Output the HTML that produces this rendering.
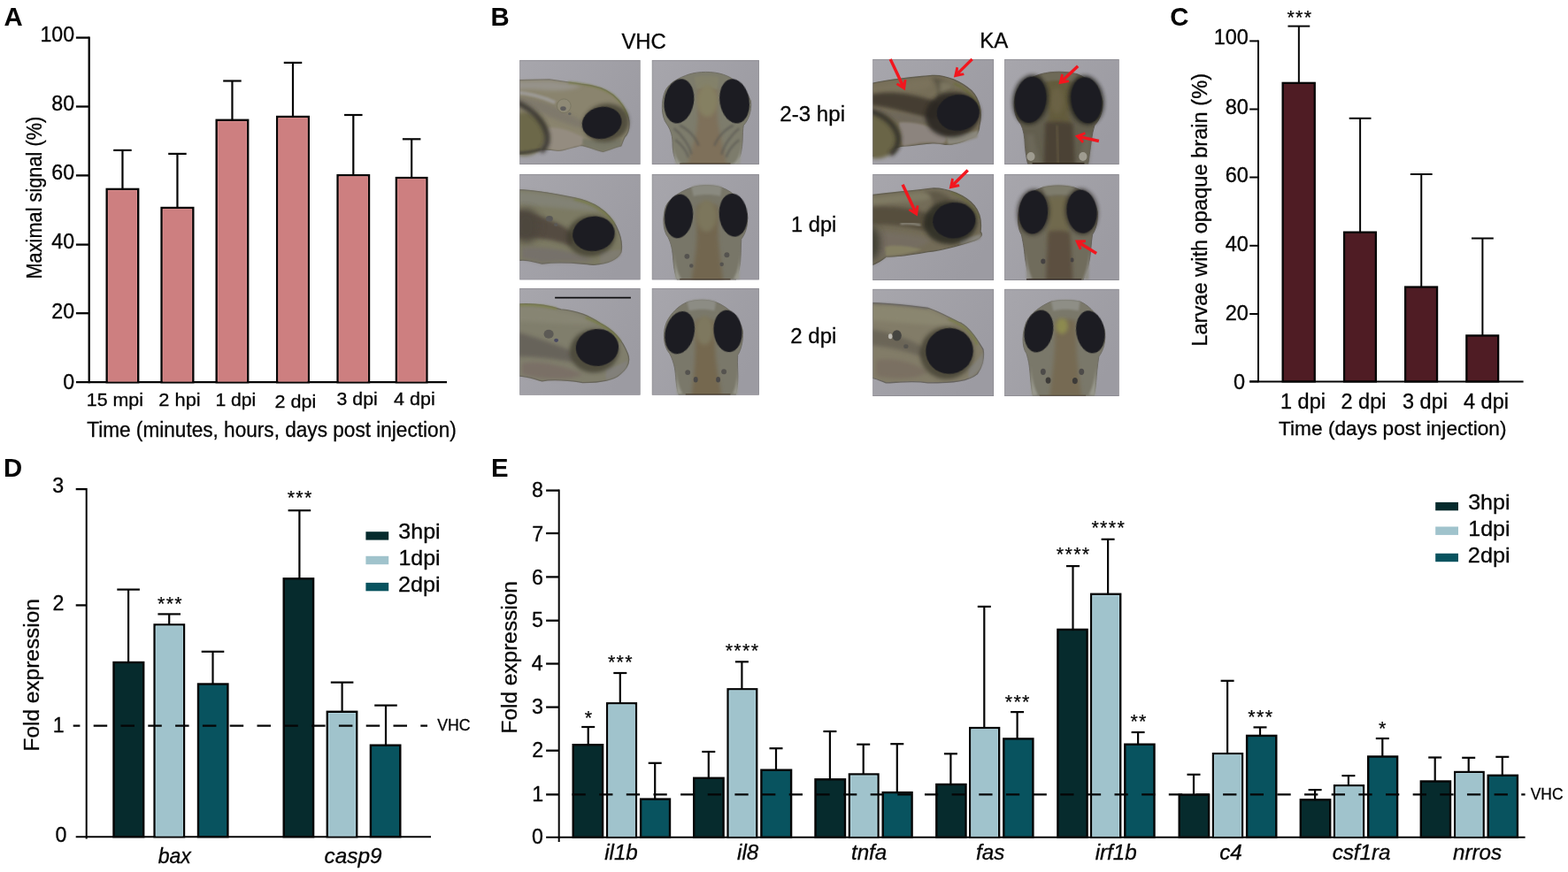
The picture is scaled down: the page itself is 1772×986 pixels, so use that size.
<!DOCTYPE html>
<html lang="en">
<head>
<meta charset="utf-8">
<title>Figure</title>
<style>
html,body{margin:0;padding:0;background:#fff;}
body{width:1772px;height:986px;overflow:hidden;}
svg{display:block;font-family:"Liberation Sans",Arial,Helvetica,sans-serif;fill:#050505;}
</style>
</head>
<body>
<svg width="1772" height="986" viewBox="0 0 1772 986">
<rect width="1772" height="986" fill="#ffffff"/>
<text x="4.57" y="29.30" font-size="29.30" font-weight="bold">A</text>
<line x1="100.70" y1="41.60" x2="100.70" y2="433.20" stroke="#050505" stroke-width="2.3" />
<line x1="85.90" y1="432.20" x2="505.00" y2="432.20" stroke="#050505" stroke-width="2.3" />
<line x1="85.90" y1="42.60" x2="100.70" y2="42.60" stroke="#050505" stroke-width="2.3" />
<text x="84.09" y="47.40" font-size="23.20" text-anchor="end" stroke="#050505" stroke-width="0.3">100</text>
<line x1="85.90" y1="120.50" x2="100.70" y2="120.50" stroke="#050505" stroke-width="2.3" />
<text x="84.12" y="124.60" font-size="23.20" text-anchor="end" stroke="#050505" stroke-width="0.3">80</text>
<line x1="85.90" y1="198.40" x2="100.70" y2="198.40" stroke="#050505" stroke-width="2.3" />
<text x="84.12" y="202.60" font-size="23.20" text-anchor="end" stroke="#050505" stroke-width="0.3">60</text>
<line x1="85.90" y1="276.60" x2="100.70" y2="276.60" stroke="#050505" stroke-width="2.3" />
<text x="84.12" y="280.80" font-size="23.20" text-anchor="end" stroke="#050505" stroke-width="0.3">40</text>
<line x1="85.90" y1="354.20" x2="100.70" y2="354.20" stroke="#050505" stroke-width="2.3" />
<text x="84.12" y="359.80" font-size="23.20" text-anchor="end" stroke="#050505" stroke-width="0.3">20</text>
<text x="84.10" y="440.40" font-size="23.20" text-anchor="end" stroke="#050505" stroke-width="0.3">0</text>
<line x1="138.45" y1="169.90" x2="138.45" y2="213.70" stroke="#050505" stroke-width="2.2" />
<line x1="128.20" y1="169.90" x2="148.70" y2="169.90" stroke="#050505" stroke-width="2.2" />
<rect x="120.70" y="213.90" width="35.50" height="218.30" fill="#cd7f80" stroke="#050505" stroke-width="2.4"/>
<rect x="122.30" y="215.50" width="32.30" height="215.70" fill="none" stroke="#dc8f90" stroke-width="0.8"/>
<line x1="200.45" y1="173.90" x2="200.45" y2="234.80" stroke="#050505" stroke-width="2.2" />
<line x1="190.20" y1="173.90" x2="210.70" y2="173.90" stroke="#050505" stroke-width="2.2" />
<rect x="182.60" y="235.00" width="35.70" height="197.20" fill="#cd7f80" stroke="#050505" stroke-width="2.4"/>
<rect x="184.20" y="236.60" width="32.50" height="194.60" fill="none" stroke="#dc8f90" stroke-width="0.8"/>
<line x1="262.45" y1="91.50" x2="262.45" y2="135.60" stroke="#050505" stroke-width="2.2" />
<line x1="252.20" y1="91.50" x2="272.70" y2="91.50" stroke="#050505" stroke-width="2.2" />
<rect x="244.70" y="135.80" width="35.50" height="296.40" fill="#cd7f80" stroke="#050505" stroke-width="2.4"/>
<rect x="246.30" y="137.40" width="32.30" height="293.80" fill="none" stroke="#dc8f90" stroke-width="0.8"/>
<line x1="331.00" y1="70.90" x2="331.00" y2="131.80" stroke="#050505" stroke-width="2.2" />
<line x1="320.75" y1="70.90" x2="341.25" y2="70.90" stroke="#050505" stroke-width="2.2" />
<rect x="313.20" y="132.00" width="35.60" height="300.20" fill="#cd7f80" stroke="#050505" stroke-width="2.4"/>
<rect x="314.80" y="133.60" width="32.40" height="297.60" fill="none" stroke="#dc8f90" stroke-width="0.8"/>
<line x1="399.30" y1="130.00" x2="399.30" y2="198.00" stroke="#050505" stroke-width="2.2" />
<line x1="389.05" y1="130.00" x2="409.55" y2="130.00" stroke="#050505" stroke-width="2.2" />
<rect x="381.60" y="198.20" width="35.40" height="234.00" fill="#cd7f80" stroke="#050505" stroke-width="2.4"/>
<rect x="383.20" y="199.80" width="32.20" height="231.40" fill="none" stroke="#dc8f90" stroke-width="0.8"/>
<line x1="465.15" y1="157.30" x2="465.15" y2="200.90" stroke="#050505" stroke-width="2.2" />
<line x1="454.90" y1="157.30" x2="475.40" y2="157.30" stroke="#050505" stroke-width="2.2" />
<rect x="447.90" y="201.10" width="34.50" height="231.10" fill="#cd7f80" stroke="#050505" stroke-width="2.4"/>
<rect x="449.50" y="202.70" width="31.30" height="228.50" fill="none" stroke="#dc8f90" stroke-width="0.8"/>
<text x="97.80" y="458.80" font-size="20.80" textLength="64.23" lengthAdjust="spacingAndGlyphs" stroke="#050505" stroke-width="0.3">15 mpi</text>
<text x="179.31" y="458.80" font-size="20.80" textLength="47.33" lengthAdjust="spacingAndGlyphs" stroke="#050505" stroke-width="0.3">2 hpi</text>
<text x="243.41" y="458.80" font-size="20.80" textLength="45.88" lengthAdjust="spacingAndGlyphs" stroke="#050505" stroke-width="0.3">1 dpi</text>
<text x="310.52" y="460.60" font-size="20.80" textLength="46.70" lengthAdjust="spacingAndGlyphs" stroke="#050505" stroke-width="0.3">2 dpi</text>
<text x="380.60" y="457.80" font-size="20.80" textLength="46.10" lengthAdjust="spacingAndGlyphs" stroke="#050505" stroke-width="0.3">3 dpi</text>
<text x="445.12" y="458.30" font-size="20.80" textLength="46.60" lengthAdjust="spacingAndGlyphs" stroke="#050505" stroke-width="0.3">4 dpi</text>
<text x="98.19" y="494.00" font-size="24.20" textLength="417.54" lengthAdjust="spacingAndGlyphs" stroke="#050505" stroke-width="0.3">Time (minutes, hours, days post injection)</text>
<text x="46.90" y="315.50" font-size="24.80" textLength="183.79" lengthAdjust="spacingAndGlyphs" transform="rotate(-90 46.90 315.50)" stroke="#050505" stroke-width="0.3">Maximal signal (%)</text>
<text x="554.62" y="29.30" font-size="29.30" font-weight="bold">B</text>
<text x="702.48" y="55.00" font-size="24.00" textLength="50.35" lengthAdjust="spacingAndGlyphs" stroke="#050505" stroke-width="0.3">VHC</text>
<text x="1107.32" y="54.00" font-size="24.00" textLength="32.02" lengthAdjust="spacingAndGlyphs" stroke="#050505" stroke-width="0.3">KA</text>
<text x="881.29" y="136.80" font-size="23.50" textLength="73.74" lengthAdjust="spacingAndGlyphs" stroke="#050505" stroke-width="0.3">2-3 hpi</text>
<text x="894.13" y="261.60" font-size="23.50" textLength="51.23" lengthAdjust="spacingAndGlyphs" stroke="#050505" stroke-width="0.3">1 dpi</text>
<text x="893.30" y="388.40" font-size="23.50" textLength="52.09" lengthAdjust="spacingAndGlyphs" stroke="#050505" stroke-width="0.3">2 dpi</text>
<defs><filter id="b2" x="-22%" y="-22%" width="144%" height="144%"><feGaussianBlur stdDeviation="2"/></filter><filter id="b4" x="-24%" y="-24%" width="148%" height="148%"><feGaussianBlur stdDeviation="4"/></filter><filter id="b8" x="-28%" y="-28%" width="156%" height="156%"><feGaussianBlur stdDeviation="8"/></filter><filter id="b14" x="-34%" y="-34%" width="168%" height="168%"><feGaussianBlur stdDeviation="14"/></filter><filter id="b25" x="-45%" y="-45%" width="190%" height="190%"><feGaussianBlur stdDeviation="25"/></filter><clipPath id="c1"><rect x="44" y="48" width="834" height="722"/></clipPath><linearGradient id="g2" x1="0" y1="0" x2="1" y2="0.6"><stop offset="0" stop-color="#a7a6ac"/><stop offset="1" stop-color="#9c9ba2"/></linearGradient><clipPath id="c3"><rect x="957" y="48" width="741" height="722"/></clipPath><linearGradient id="g4" x1="0" y1="0" x2="1" y2="0.6"><stop offset="0" stop-color="#a7a6ac"/><stop offset="1" stop-color="#9c9ba2"/></linearGradient><clipPath id="c5"><rect x="44" y="42" width="834" height="731"/></clipPath><linearGradient id="g6" x1="0" y1="0" x2="1" y2="0.6"><stop offset="0" stop-color="#a7a6ac"/><stop offset="1" stop-color="#9c9ba2"/></linearGradient><clipPath id="c7"><rect x="957" y="42" width="741" height="731"/></clipPath><linearGradient id="g8" x1="0" y1="0" x2="1" y2="0.6"><stop offset="0" stop-color="#a7a6ac"/><stop offset="1" stop-color="#9c9ba2"/></linearGradient><clipPath id="c9"><rect x="44" y="48" width="834" height="739"/></clipPath><linearGradient id="g10" x1="0" y1="0" x2="1" y2="0.6"><stop offset="0" stop-color="#a7a6ac"/><stop offset="1" stop-color="#9c9ba2"/></linearGradient><clipPath id="c11"><rect x="957" y="48" width="741" height="739"/></clipPath><linearGradient id="g12" x1="0" y1="0" x2="1" y2="0.6"><stop offset="0" stop-color="#a7a6ac"/><stop offset="1" stop-color="#9c9ba2"/></linearGradient><clipPath id="c13"><rect x="38" y="42" width="837" height="728"/></clipPath><linearGradient id="g14" x1="0" y1="0" x2="1" y2="0.6"><stop offset="0" stop-color="#a7a6ac"/><stop offset="1" stop-color="#9c9ba2"/></linearGradient><clipPath id="c15"><rect x="948" y="42" width="792" height="728"/></clipPath><linearGradient id="g16" x1="0" y1="0" x2="1" y2="0.6"><stop offset="0" stop-color="#a7a6ac"/><stop offset="1" stop-color="#9c9ba2"/></linearGradient><clipPath id="c17"><rect x="38" y="42" width="837" height="734"/></clipPath><linearGradient id="g18" x1="0" y1="0" x2="1" y2="0.6"><stop offset="0" stop-color="#a7a6ac"/><stop offset="1" stop-color="#9c9ba2"/></linearGradient><clipPath id="c19"><rect x="948" y="42" width="792" height="734"/></clipPath><linearGradient id="g20" x1="0" y1="0" x2="1" y2="0.6"><stop offset="0" stop-color="#a7a6ac"/><stop offset="1" stop-color="#9c9ba2"/></linearGradient><clipPath id="c21"><rect x="38" y="53" width="837" height="742"/></clipPath><linearGradient id="g22" x1="0" y1="0" x2="1" y2="0.6"><stop offset="0" stop-color="#a7a6ac"/><stop offset="1" stop-color="#9c9ba2"/></linearGradient><clipPath id="c23"><rect x="948" y="53" width="792" height="742"/></clipPath><linearGradient id="g24" x1="0" y1="0" x2="1" y2="0.6"><stop offset="0" stop-color="#a7a6ac"/><stop offset="1" stop-color="#9c9ba2"/></linearGradient></defs>
<g transform="translate(580,60) scale(0.16366)"><g clip-path="url(#c1)"><rect x="44" y="48" width="834" height="722" fill="url(#g2)"/><path d="M20,188 L250,183 C330,195 400,205 470,215 C560,222 640,250 690,290 C740,330 790,400 800,470 C805,520 790,560 770,580 C760,600 750,630 745,640 C700,650 660,670 620,680 C570,670 520,645 470,637 C420,645 370,670 310,675 C250,665 200,665 180,668 C130,680 80,690 20,700 Z" fill="#8a846e" stroke="#6f6c60" stroke-width="8" filter="url(#b4)"/><path d="M20,196 L250,191 C330,203 400,213 470,223 C420,260 300,262 200,255 C120,250 60,250 20,255 Z" fill="#96938a" filter="url(#b14)"/><path d="M20,300 C120,310 230,340 330,390 C400,430 450,455 480,475 L470,520 C400,500 300,465 220,425 C140,385 80,365 20,360 Z" fill="#7e786c" opacity="0.9" filter="url(#b14)"/><path d="M20,272 C100,277 200,302 290,342" fill="none" stroke="#9f9c9a" stroke-width="24" opacity="0.9" filter="url(#b8)"/><path d="M230,520 C300,500 400,540 480,580 C500,610 480,640 440,645 C380,660 330,675 300,672 C250,660 210,650 200,640 Z" fill="#948c80" filter="url(#b8)"/><path d="M480,590 C560,610 660,620 750,590 L745,640 C700,650 660,670 620,680 C570,670 520,645 480,637 Z" fill="#787868" filter="url(#b8)"/><ellipse cx="75" cy="560" rx="160" ry="150" fill="#6c6748" filter="url(#b14)"/><path d="M20,340 C120,380 210,460 235,570 C240,620 220,660 190,680" fill="none" stroke="#3a3733" stroke-width="36" opacity="0.95" filter="url(#b14)"/><path d="M20,690 C80,690 140,680 190,665" fill="none" stroke="#45423a" stroke-width="20" opacity="0.85" filter="url(#b8)"/><path d="M380,203 C500,212 620,238 690,290 C740,330 775,390 788,440" fill="none" stroke="#787d46" stroke-width="12" opacity="0.9" filter="url(#b8)"/><path d="M302,365 a48,48 0 1,0 96,0 a48,48 0 1,0 -96,0" fill="#8f8a76" stroke="#77735f" stroke-width="5" filter="url(#b4)"/><ellipse cx="345" cy="383" rx="20" ry="15" fill="#5e5d5c" filter="url(#b4)"/><ellipse cx="390" cy="420" rx="11" ry="9" fill="#65645e" filter="url(#b4)"/><ellipse cx="640" cy="482" rx="160" ry="132" fill="#3a382c" transform="rotate(-12 640 482)" opacity="0.7" filter="url(#b14)"/><ellipse cx="612" cy="482" rx="138" ry="110" fill="#1f1f23" transform="rotate(-12 612 482)" filter="url(#b4)"/><rect x="46" y="50" width="830" height="718" fill="none" stroke="#807f86" stroke-width="5" opacity="0.75"/></g></g>
<g transform="translate(580,60) scale(0.16366)"><g clip-path="url(#c3)"><rect x="957" y="48" width="741" height="722" fill="url(#g4)"/><path d="M1210,148 C1280,125 1380,125 1450,148 C1520,170 1600,230 1640,330 C1650,400 1620,470 1590,500 C1580,560 1590,620 1570,700 C1560,740 1530,760 1500,790 L1150,790 C1120,750 1100,700 1100,620 C1100,560 1080,520 1060,490 C1020,440 1020,330 1050,260 C1080,200 1150,170 1210,148 Z" fill="#7d7c6c" stroke="#6e6c64" stroke-width="6" filter="url(#b4)"/><path d="M1270,240 C1310,230 1370,230 1410,245 C1410,320 1400,420 1420,520 C1440,620 1460,700 1480,790 L1200,790 C1220,700 1260,600 1270,500 C1280,420 1270,320 1270,240 Z" fill="#7e705a" filter="url(#b14)"/><path d="M1250,165 C1300,155 1370,155 1420,167 L1410,250 C1370,240 1310,240 1265,250 Z" fill="#83816b" filter="url(#b8)"/><ellipse cx="1340" cy="330" rx="70" ry="110" fill="#858062" filter="url(#b14)"/><path d="M1110,520 C1160,560 1220,640 1230,700 M1560,520 C1510,560 1450,640 1440,700 M1120,600 C1160,630 1200,680 1210,720 M1560,600 C1520,630 1480,680 1470,720 M1150,500 C1200,520 1260,580 1280,640 M1520,500 C1470,520 1410,580 1390,640" fill="none" stroke="#5a5852" stroke-width="14" opacity="0.7" filter="url(#b8)"/><path d="M1100,600 C1110,700 1130,750 1180,775 L1120,775 Z M1580,600 C1570,700 1550,750 1500,775 L1565,775 Z" fill="#97978c" filter="url(#b8)"/><path d="M1150,772 L1500,772 L1500,760 L1150,760 Z" fill="#3e3222" filter="url(#b4)"/><ellipse cx="1145" cy="332" rx="102" ry="155" fill="#1f1f23" transform="rotate(10 1145 332)" filter="url(#b4)"/><ellipse cx="1528" cy="332" rx="102" ry="155" fill="#1f1f23" transform="rotate(-10 1528 332)" filter="url(#b4)"/><rect x="959" y="50" width="737" height="718" fill="none" stroke="#807f86" stroke-width="5" opacity="0.75"/></g></g>
<g transform="translate(580,190) scale(0.16366)"><g clip-path="url(#c5)"><rect x="44" y="42" width="834" height="731" fill="url(#g6)"/><path d="M20,150 C150,150 300,180 420,205 C550,230 650,290 710,400 C750,480 755,530 745,580 C720,630 650,660 560,668 C450,660 350,640 200,660 C120,640 80,630 20,640 Z" fill="#7c7a64" stroke="#67655a" stroke-width="8" filter="url(#b4)"/><path d="M20,160 C150,160 300,190 420,215 C500,235 560,265 600,295 C500,300 300,270 20,250 Z" fill="#828274" filter="url(#b14)"/><path d="M20,290 C100,300 220,340 320,390 C370,415 400,440 420,470 L400,540 C300,500 200,480 20,480 Z" fill="#524a41" opacity="0.95" filter="url(#b14)"/><ellipse cx="90" cy="400" rx="90" ry="120" fill="#4e473e" opacity="0.9" filter="url(#b25)"/><path d="M420,215 C520,232 640,290 700,390" fill="none" stroke="#787d46" stroke-width="12" opacity="0.9" filter="url(#b8)"/><path d="M60,550 C300,540 450,590 560,640 C450,655 350,635 200,655 C150,640 100,630 60,625 Z" fill="#76716a" filter="url(#b14)"/><path d="M600,575 C660,575 720,565 745,565 L740,600 C700,640 650,655 600,660 Z" fill="#7f7c70" filter="url(#b8)"/><ellipse cx="250" cy="350" rx="24" ry="20" fill="#5a5956" filter="url(#b4)"/><ellipse cx="295" cy="392" rx="13" ry="11" fill="#5a5956" filter="url(#b4)"/><ellipse cx="537" cy="469" rx="168" ry="142" fill="#3a382c" transform="rotate(-8 537 469)" opacity="0.7" filter="url(#b14)"/><ellipse cx="555" cy="455" rx="146" ry="120" fill="#1f1f23" transform="rotate(-8 555 455)" filter="url(#b4)"/><rect x="46" y="44" width="830" height="727" fill="none" stroke="#807f86" stroke-width="5" opacity="0.75"/></g></g>
<g transform="translate(580,190) scale(0.16366)"><g clip-path="url(#c7)"><rect x="957" y="42" width="741" height="731" fill="url(#g8)"/><path d="M1230,135 C1290,115 1380,115 1440,135 C1520,165 1590,230 1615,320 C1625,400 1600,460 1575,490 C1570,560 1575,640 1560,700 C1550,740 1540,760 1530,790 L1140,790 C1120,750 1110,700 1105,640 C1100,560 1090,520 1070,480 C1030,430 1030,330 1055,260 C1090,200 1160,160 1230,135 Z" fill="#787668" stroke="#6e6c64" stroke-width="6" filter="url(#b4)"/><path d="M1270,260 C1320,250 1370,250 1410,260 C1420,340 1410,440 1420,540 C1430,640 1440,700 1450,790 L1230,790 C1240,700 1260,620 1265,520 C1270,420 1265,340 1270,260 Z" fill="#72664f" filter="url(#b14)"/><path d="M1230,130 C1290,112 1380,112 1440,130 L1430,195 C1380,180 1300,180 1245,195 Z" fill="#8a8a80" filter="url(#b8)"/><ellipse cx="1335" cy="330" rx="70" ry="110" fill="#7c765c" filter="url(#b14)"/><path d="M1110,560 C1115,650 1130,720 1160,765 L1120,775 Z M1570,560 C1565,650 1550,720 1520,765 L1560,775 Z" fill="#97978c" filter="url(#b8)"/><ellipse cx="1200" cy="610" rx="18" ry="18" fill="#55534f" filter="url(#b4)"/><ellipse cx="1230" cy="675" rx="14" ry="14" fill="#55534f" filter="url(#b4)"/><ellipse cx="1475" cy="600" rx="18" ry="18" fill="#55534f" filter="url(#b4)"/><ellipse cx="1440" cy="665" rx="14" ry="14" fill="#55534f" filter="url(#b4)"/><path d="M1150,775 L1500,775 L1500,764 L1150,764 Z" fill="#443826" filter="url(#b4)"/><ellipse cx="1143" cy="333" rx="98" ry="152" fill="#1f1f23" transform="rotate(6 1143 333)" filter="url(#b4)"/><ellipse cx="1520" cy="325" rx="98" ry="150" fill="#1f1f23" transform="rotate(-6 1520 325)" filter="url(#b4)"/><rect x="959" y="44" width="737" height="727" fill="none" stroke="#807f86" stroke-width="5" opacity="0.75"/></g></g>
<g transform="translate(580,318) scale(0.16366)"><g clip-path="url(#c9)"><rect x="44" y="48" width="834" height="739" fill="url(#g10)"/><path d="M20,160 C150,150 250,170 330,195 C450,205 520,240 600,290 C700,340 760,420 790,500 C810,550 790,600 740,640 C700,680 600,700 480,700 C350,680 250,680 200,690 C150,680 100,650 20,655 Z" fill="#807e6c" stroke="#67655a" stroke-width="8" filter="url(#b4)"/><path d="M20,172 C150,162 250,182 330,207 C420,217 500,247 560,287 C450,310 250,285 20,275 Z" fill="#878573" filter="url(#b14)"/><path d="M20,165 C100,160 200,165 300,190" fill="none" stroke="#7f8448" stroke-width="14" opacity="0.85" filter="url(#b8)"/><path d="M500,250 C600,290 700,350 740,420" fill="none" stroke="#787d46" stroke-width="14" opacity="0.95" filter="url(#b8)"/><path d="M20,350 C100,370 250,420 400,480 L420,560 C300,540 150,520 20,520 Z" fill="#66625a" opacity="0.95" filter="url(#b14)"/><path d="M60,565 C200,545 350,585 480,645 C400,690 200,680 60,645 Z" fill="#7a7066" filter="url(#b14)"/><path d="M640,605 C700,595 760,565 790,545 L780,600 C740,650 700,670 640,680 Z" fill="#82807a" filter="url(#b8)"/><ellipse cx="245" cy="365" rx="34" ry="30" fill="#5c5a54" filter="url(#b4)"/><ellipse cx="297" cy="408" rx="15" ry="13" fill="#4a4a62" filter="url(#b4)"/><ellipse cx="560" cy="482" rx="170" ry="150" fill="#3a382c" transform="rotate(-5 560 482)" opacity="0.7" filter="url(#b14)"/><ellipse cx="580" cy="458" rx="148" ry="128" fill="#1f1f23" transform="rotate(-5 580 458)" filter="url(#b4)"/><line x1="288" y1="114" x2="812" y2="114" stroke="#0e0e10" stroke-width="10"/><rect x="46" y="50" width="830" height="735" fill="none" stroke="#807f86" stroke-width="5" opacity="0.75"/></g></g>
<g transform="translate(580,318) scale(0.16366)"><g clip-path="url(#c11)"><rect x="957" y="48" width="741" height="739" fill="url(#g12)"/><path d="M1200,145 C1270,125 1340,125 1400,145 C1480,175 1560,250 1585,340 C1590,420 1570,480 1550,510 C1545,580 1555,640 1550,700 C1545,750 1540,770 1530,800 L1150,800 C1130,760 1125,700 1120,640 C1115,580 1100,540 1080,500 C1035,450 1030,350 1060,280 C1090,220 1140,170 1200,145 Z" fill="#7a786a" stroke="#6e6c64" stroke-width="6" filter="url(#b4)"/><path d="M1260,270 C1300,260 1350,260 1390,275 C1395,340 1390,440 1400,540 C1410,640 1430,720 1440,800 L1230,800 C1240,720 1250,640 1255,540 C1260,440 1255,340 1260,270 Z" fill="#74684f" filter="url(#b14)"/><path d="M1200,140 C1270,120 1340,120 1400,140 L1390,205 C1340,190 1270,190 1215,205 Z" fill="#8c8c84" filter="url(#b8)"/><ellipse cx="1320" cy="340" rx="60" ry="100" fill="#7e785e" filter="url(#b14)"/><path d="M1125,580 C1128,660 1140,730 1170,775 L1130,785 Z M1550,580 C1548,660 1540,730 1515,775 L1550,785 Z" fill="#97978c" filter="url(#b8)"/><ellipse cx="1205" cy="630" rx="18" ry="18" fill="#55534f" filter="url(#b4)"/><ellipse cx="1260" cy="680" rx="15" ry="20" fill="#4c4a48" filter="url(#b4)"/><ellipse cx="1455" cy="625" rx="18" ry="18" fill="#55534f" filter="url(#b4)"/><ellipse cx="1415" cy="680" rx="15" ry="20" fill="#4c4a48" filter="url(#b4)"/><path d="M1190,789 L1500,789 L1500,778 L1190,778 Z" fill="#4e4230" filter="url(#b4)"/><ellipse cx="1150" cy="355" rx="100" ry="150" fill="#1f1f23" transform="rotate(14 1150 355)" filter="url(#b4)"/><ellipse cx="1482" cy="345" rx="98" ry="146" fill="#1f1f23" transform="rotate(-6 1482 345)" filter="url(#b4)"/><rect x="959" y="50" width="737" height="735" fill="none" stroke="#807f86" stroke-width="5" opacity="0.75"/></g></g>
<g transform="translate(980,60) scale(0.16366)"><g clip-path="url(#c13)"><rect x="38" y="42" width="837" height="728" fill="url(#g14)"/><path d="M10,215 C150,180 300,170 450,155 C550,150 650,200 720,260 C780,320 795,420 775,500 C772,560 745,580 700,592 C650,620 600,632 540,632 C450,605 350,640 250,642 C200,642 150,680 10,720 Z" fill="#766e58" stroke="#5f5b4e" stroke-width="8" filter="url(#b4)"/><path d="M10,240 C150,200 300,190 440,175 C460,220 440,255 300,262 C200,270 100,280 10,300 Z" fill="#7a725c" filter="url(#b14)"/><path d="M20,285 C200,255 350,290 490,340 C530,380 510,440 440,460 C300,420 150,370 20,360 Z" fill="#443c32" filter="url(#b14)"/><path d="M440,170 C480,200 500,260 480,330 C520,300 560,260 600,240 C560,200 500,170 440,170 Z" fill="#5a5444" filter="url(#b14)"/><path d="M500,200 C540,190 580,200 600,230 C580,260 540,270 500,280 Z" fill="#7a745e" filter="url(#b14)"/><path d="M10,380 C150,400 300,430 440,450 L460,495 C300,485 150,465 10,455 Z" fill="#6e675c" opacity="0.9" filter="url(#b14)"/><path d="M220,480 C320,470 440,500 540,560 C560,600 540,625 500,625 C400,600 300,640 250,640 C220,600 215,540 220,480 Z" fill="#8c847e" filter="url(#b8)"/><ellipse cx="60" cy="575" rx="170" ry="155" fill="#6a6546" filter="url(#b14)"/><path d="M10,400 C100,420 190,480 215,580 C220,630 200,670 160,700" fill="none" stroke="#35322a" stroke-width="36" opacity="0.95" filter="url(#b14)"/><path d="M600,210 C680,240 750,310 775,400" fill="none" stroke="#6a6e38" stroke-width="12" opacity="0.9" filter="url(#b8)"/><path d="M540,565 C620,565 720,545 770,535 L760,585 C720,595 660,625 560,632 Z" fill="#8a877c" filter="url(#b8)"/><ellipse cx="590" cy="425" rx="190" ry="155" fill="#2a2820" transform="rotate(-8 590 425)" opacity="0.9" filter="url(#b14)"/><ellipse cx="628" cy="412" rx="148" ry="125" fill="#1f1f23" transform="rotate(-8 628 412)" filter="url(#b4)"/><rect x="40" y="44" width="833" height="724" fill="none" stroke="#807f86" stroke-width="5" opacity="0.75"/></g><g fill="#f2161e"><line x1="160.0" y1="42.0" x2="244.9" y2="221.8" stroke="#f2161e" stroke-width="21"/><path d="M262.0,258.0 L199.4,219.0 L208.6,205.8 L244.9,221.8 L255.6,183.6 L271.7,184.9 Z"/></g><g fill="#f2161e"><line x1="725.0" y1="42.0" x2="626.4" y2="139.8" stroke="#f2161e" stroke-width="21"/><path d="M598.0,168.0 L613.8,95.9 L629.4,100.2 L626.4,139.8 L666.0,137.2 L670.2,152.7 Z"/></g></g>
<g transform="translate(980,60) scale(0.16366)"><g clip-path="url(#c15)"><rect x="948" y="42" width="792" height="728" fill="url(#g16)"/><path d="M1200,145 C1280,125 1370,125 1450,145 C1530,175 1600,240 1625,330 C1630,410 1600,470 1570,500 C1550,560 1545,640 1535,700 C1530,740 1525,770 1520,800 L1120,800 C1105,760 1095,700 1090,640 C1088,580 1080,530 1060,490 C1010,440 1005,340 1030,270 C1060,210 1130,165 1200,145 Z" fill="#645f50" stroke="#5e5a52" stroke-width="6" filter="url(#b4)"/><path d="M1240,170 C1300,160 1360,160 1410,175 C1415,250 1400,330 1395,420 C1400,460 1405,480 1410,500 L1240,500 C1250,470 1252,450 1255,420 C1250,330 1235,250 1240,170 Z" fill="#645c3e" filter="url(#b14)"/><path d="M1200,148 C1280,128 1370,128 1450,148 L1440,200 C1370,185 1280,185 1215,200 Z" fill="#6e6a58" filter="url(#b8)"/><path d="M1230,480 C1290,470 1360,470 1420,485 C1430,580 1430,680 1435,780 L1220,780 C1222,680 1225,580 1230,480 Z" fill="#4c4336" filter="url(#b14)"/><path d="M1310,500 L1320,770" fill="none" stroke="#625840" stroke-width="12" filter="url(#b8)"/><path d="M1095,560 C1100,660 1110,720 1125,770 L1200,770 C1180,700 1160,640 1150,560 Z" fill="#6e6a5c" opacity="0.8" filter="url(#b14)"/><path d="M1545,560 C1540,660 1535,720 1525,770 L1450,770 C1470,700 1490,640 1500,560 Z" fill="#6e6a5c" opacity="0.8" filter="url(#b14)"/><ellipse cx="1130" cy="715" rx="28" ry="30" fill="#9f9c90" filter="url(#b4)"/><ellipse cx="1490" cy="715" rx="28" ry="30" fill="#9f9c90" filter="url(#b4)"/><ellipse cx="1310" cy="330" rx="45" ry="90" fill="#6a6244" filter="url(#b14)"/><path d="M1140,772 L1500,772 L1500,758 L1140,758 Z" fill="#2a2218" filter="url(#b4)"/><ellipse cx="1128" cy="322" rx="122" ry="172" fill="#22201a" transform="rotate(8 1128 322)" opacity="0.85" filter="url(#b14)"/><ellipse cx="1512" cy="326" rx="122" ry="172" fill="#22201a" transform="rotate(-8 1512 326)" opacity="0.85" filter="url(#b14)"/><ellipse cx="1128" cy="322" rx="108" ry="160" fill="#1f1f23" transform="rotate(8 1128 322)" filter="url(#b4)"/><ellipse cx="1514" cy="326" rx="106" ry="160" fill="#1f1f23" transform="rotate(-8 1514 326)" filter="url(#b4)"/><rect x="950" y="44" width="788" height="724" fill="none" stroke="#807f86" stroke-width="5" opacity="0.75"/></g><g fill="#f2161e"><line x1="1455.0" y1="90.0" x2="1351.1" y2="187.6" stroke="#f2161e" stroke-width="21"/><path d="M1322.0,215.0 L1339.8,143.4 L1355.2,148.1 L1351.1,187.6 L1390.8,186.0 L1394.6,201.7 Z"/></g><g fill="#f2161e"><line x1="1600.0" y1="608.0" x2="1473.0" y2="579.7" stroke="#f2161e" stroke-width="21"/><path d="M1434.0,571.0 L1503.2,545.4 L1508.0,560.9 L1473.0,579.7 L1496.7,611.6 L1485.8,623.5 Z"/></g></g>
<g transform="translate(980,190) scale(0.16366)"><g clip-path="url(#c17)"><rect x="38" y="42" width="837" height="734" fill="url(#g18)"/><path d="M10,190 C150,170 300,160 460,140 C560,140 680,190 740,260 C780,310 790,380 782,440 C800,460 790,480 740,500 C650,530 500,570 420,578 C300,600 200,612 130,612 C100,640 60,660 10,680 Z" fill="#736c58" stroke="#5f5b4e" stroke-width="8" filter="url(#b4)"/><path d="M10,205 C150,185 300,175 450,158 C470,195 440,225 300,232 C200,240 100,250 10,260 Z" fill="#7f7a64" filter="url(#b14)"/><path d="M10,270 C200,255 330,280 450,325 C480,360 460,420 400,435 C280,405 150,385 10,390 Z" fill="#554e3e" opacity="0.95" filter="url(#b14)"/><path d="M380,160 C440,170 470,220 450,300 C500,260 540,230 580,215 C540,170 460,150 380,160 Z" fill="#5e5846" filter="url(#b14)"/><path d="M10,430 C150,440 300,460 440,490 C400,545 300,572 200,592 C140,602 80,622 10,652 Z" fill="#766e62" opacity="0.95" filter="url(#b14)"/><path d="M120,545 C200,525 300,545 380,562 C300,590 200,605 130,608 Z" fill="#858064" filter="url(#b8)"/><ellipse cx="15" cy="520" rx="75" ry="120" fill="#3e3c30" opacity="0.95" filter="url(#b25)"/><path d="M580,170 C660,200 740,260 770,350" fill="none" stroke="#6a6e38" stroke-width="10" opacity="0.8" filter="url(#b8)"/><path d="M230,385 C270,380 330,385 370,395" fill="none" stroke="#9a978c" stroke-width="12" filter="url(#b8)"/><path d="M640,492 C700,482 760,462 790,457 L780,490 C720,510 680,520 640,525 Z" fill="#85837a" filter="url(#b8)"/><ellipse cx="575" cy="375" rx="185" ry="150" fill="#2c2a22" transform="rotate(-5 575 375)" opacity="0.85" filter="url(#b14)"/><ellipse cx="600" cy="362" rx="148" ry="124" fill="#1f1f23" transform="rotate(-5 600 362)" filter="url(#b4)"/><rect x="40" y="44" width="833" height="730" fill="none" stroke="#807f86" stroke-width="5" opacity="0.75"/></g><g fill="#f2161e"><line x1="245.0" y1="115.0" x2="330.0" y2="296.8" stroke="#f2161e" stroke-width="21"/><path d="M347.0,333.0 L284.5,293.8 L293.8,280.6 L330.0,296.8 L340.9,258.6 L357.0,259.9 Z"/></g><g fill="#f2161e"><line x1="695.0" y1="15.0" x2="594.4" y2="114.8" stroke="#f2161e" stroke-width="21"/><path d="M566.0,143.0 L581.8,70.9 L597.4,75.2 L594.4,114.8 L634.0,112.2 L638.2,127.7 Z"/></g></g>
<g transform="translate(980,190) scale(0.16366)"><g clip-path="url(#c19)"><rect x="948" y="42" width="792" height="734" fill="url(#g20)"/><path d="M1210,135 C1280,118 1360,118 1430,135 C1510,160 1570,220 1590,300 C1595,380 1575,430 1555,460 C1545,520 1545,600 1530,660 C1520,720 1500,750 1480,800 L1130,800 C1110,740 1100,680 1090,620 C1085,560 1075,500 1065,460 C1035,410 1035,320 1060,250 C1090,190 1150,155 1210,135 Z" fill="#706c5c" stroke="#625e56" stroke-width="6" filter="url(#b4)"/><path d="M1250,200 C1300,190 1350,190 1390,200 C1395,320 1390,420 1395,520 L1245,520 C1252,420 1245,320 1250,200 Z" fill="#70694e" filter="url(#b14)"/><path d="M1210,132 C1280,115 1360,115 1430,132 L1420,195 C1360,180 1290,180 1225,195 Z" fill="#7e7c6c" filter="url(#b8)"/><path d="M1250,440 C1300,430 1350,430 1400,445 C1410,540 1415,660 1420,780 L1235,780 C1238,660 1242,540 1250,440 Z" fill="#5c5040" filter="url(#b14)"/><path d="M1095,560 C1100,640 1115,710 1140,765 L1100,775 Z M1535,560 C1530,640 1515,710 1490,765 L1530,775 Z" fill="#8e8c84" filter="url(#b8)"/><ellipse cx="1215" cy="645" rx="16" ry="18" fill="#454342" filter="url(#b4)"/><ellipse cx="1415" cy="635" rx="12" ry="16" fill="#454342" filter="url(#b4)"/><path d="M1100,778 L1480,778 L1480,766 L1100,766 Z" fill="#322a20" filter="url(#b4)"/><ellipse cx="1147" cy="305" rx="112" ry="160" fill="#2a2820" transform="rotate(4 1147 305)" opacity="0.75" filter="url(#b14)"/><ellipse cx="1480" cy="300" rx="114" ry="160" fill="#2a2820" transform="rotate(-6 1480 300)" opacity="0.75" filter="url(#b14)"/><ellipse cx="1147" cy="305" rx="100" ry="150" fill="#1f1f23" transform="rotate(4 1147 305)" filter="url(#b4)"/><ellipse cx="1482" cy="300" rx="104" ry="150" fill="#1f1f23" transform="rotate(-6 1482 300)" filter="url(#b4)"/><rect x="950" y="44" width="788" height="730" fill="none" stroke="#807f86" stroke-width="5" opacity="0.75"/></g><g fill="#f2161e"><line x1="1583.0" y1="590.0" x2="1469.0" y2="519.1" stroke="#f2161e" stroke-width="21"/><path d="M1435.0,498.0 L1508.8,496.8 L1508.2,512.9 L1469.0,519.1 L1480.7,557.0 L1466.5,564.7 Z"/></g></g>
<g transform="translate(980,318) scale(0.16366)"><g clip-path="url(#c21)"><rect x="38" y="53" width="837" height="742" fill="url(#g22)"/><path d="M10,150 C150,150 300,170 420,185 C500,210 580,260 650,290 C720,330 770,420 800,470 C812,530 790,600 760,640 C700,690 600,702 420,702 C300,682 200,702 130,702 C100,690 60,670 10,662 Z" fill="#827c68" stroke="#686560" stroke-width="8" filter="url(#b4)"/><path d="M10,165 C150,165 300,185 420,200 C500,225 560,260 600,300 C450,315 250,280 10,270 Z" fill="#8a8670" filter="url(#b14)"/><path d="M10,155 C150,152 300,172 420,190" fill="none" stroke="#5f5d62" stroke-width="8" opacity="0.7" filter="url(#b8)"/><path d="M560,260 C660,300 730,360 760,440" fill="none" stroke="#787d46" stroke-width="14" opacity="0.95" filter="url(#b8)"/><path d="M10,330 C100,340 250,380 380,450 L400,530 C300,490 150,450 10,440 Z" fill="#696456" opacity="0.9" filter="url(#b14)"/><path d="M60,545 C200,525 330,565 420,625 C350,682 200,682 60,652 Z" fill="#7a7062" filter="url(#b14)"/><path d="M700,600 C750,560 790,520 800,480 L800,560 C780,620 740,650 700,670 Z" fill="#84827a" filter="url(#b8)"/><ellipse cx="205" cy="375" rx="32" ry="38" fill="#454440" filter="url(#b4)"/><ellipse cx="160" cy="380" rx="14" ry="18" fill="#bcbab2" filter="url(#b4)"/><ellipse cx="268" cy="450" rx="16" ry="14" fill="#55534e" filter="url(#b4)"/><ellipse cx="550" cy="496" rx="186" ry="180" fill="#3a382c" transform="rotate(-10 550 496)" opacity="0.7" filter="url(#b14)"/><ellipse cx="568" cy="482" rx="164" ry="158" fill="#1f1f23" transform="rotate(-10 568 482)" filter="url(#b4)"/><rect x="40" y="55" width="833" height="738" fill="none" stroke="#807f86" stroke-width="5" opacity="0.75"/></g></g>
<g transform="translate(980,318) scale(0.16366)"><g clip-path="url(#c23)"><rect x="948" y="53" width="792" height="742" fill="url(#g24)"/><path d="M1270,140 C1330,128 1410,128 1470,140 C1540,170 1610,250 1640,340 C1650,420 1630,480 1600,520 C1590,580 1585,640 1580,700 C1575,750 1570,770 1560,810 L1150,810 C1135,760 1130,700 1125,640 C1120,580 1115,550 1100,500 C1065,450 1070,350 1100,280 C1130,220 1200,170 1270,140 Z" fill="#7a786a" stroke="#6e6c64" stroke-width="6" filter="url(#b4)"/><path d="M1300,270 C1340,260 1400,260 1440,270 C1445,340 1440,440 1450,540 C1460,640 1470,720 1480,800 L1260,800 C1270,720 1280,640 1290,540 C1300,440 1295,340 1300,270 Z" fill="#766a52" filter="url(#b14)"/><path d="M1270,138 C1330,125 1410,125 1470,138 L1460,205 C1400,190 1340,190 1285,205 Z" fill="#8e8e86" filter="url(#b8)"/><ellipse cx="1345" cy="310" rx="42" ry="55" fill="#8f8e50" opacity="0.9" filter="url(#b14)"/><path d="M1130,580 C1135,660 1150,730 1180,785 L1135,795 Z M1580,580 C1575,660 1560,730 1530,785 L1575,795 Z" fill="#97978c" filter="url(#b8)"/><ellipse cx="1215" cy="625" rx="18" ry="22" fill="#4e4c4a" filter="url(#b4)"/><ellipse cx="1250" cy="685" rx="18" ry="22" fill="#3c3a38" filter="url(#b4)"/><ellipse cx="1480" cy="625" rx="18" ry="22" fill="#4e4c4a" filter="url(#b4)"/><ellipse cx="1435" cy="688" rx="18" ry="22" fill="#3c3a38" filter="url(#b4)"/><path d="M1190,797 L1510,797 L1510,786 L1190,786 Z" fill="#443826" filter="url(#b4)"/><ellipse cx="1185" cy="345" rx="98" ry="148" fill="#1f1f23" transform="rotate(12 1185 345)" filter="url(#b4)"/><ellipse cx="1542" cy="350" rx="98" ry="148" fill="#1f1f23" transform="rotate(-10 1542 350)" filter="url(#b4)"/><rect x="950" y="55" width="788" height="738" fill="none" stroke="#807f86" stroke-width="5" opacity="0.75"/></g></g>
<text x="1322.13" y="29.30" font-size="29.30" font-weight="bold">C</text>
<line x1="1422.00" y1="45.50" x2="1422.00" y2="432.30" stroke="#050505" stroke-width="2.0" />
<line x1="1412.20" y1="431.40" x2="1721.60" y2="431.40" stroke="#050505" stroke-width="2.0" />
<line x1="1412.20" y1="46.40" x2="1422.00" y2="46.40" stroke="#050505" stroke-width="2.0" />
<text x="1410.91" y="50.40" font-size="23.50" text-anchor="end" stroke="#050505" stroke-width="0.3">100</text>
<line x1="1412.20" y1="123.50" x2="1422.00" y2="123.50" stroke="#050505" stroke-width="2.0" />
<text x="1410.94" y="129.10" font-size="23.50" text-anchor="end" stroke="#050505" stroke-width="0.3">80</text>
<line x1="1412.20" y1="200.50" x2="1422.00" y2="200.50" stroke="#050505" stroke-width="2.0" />
<text x="1410.94" y="205.70" font-size="23.50" text-anchor="end" stroke="#050505" stroke-width="0.3">60</text>
<line x1="1412.20" y1="277.80" x2="1422.00" y2="277.80" stroke="#050505" stroke-width="2.0" />
<text x="1410.94" y="284.10" font-size="23.50" text-anchor="end" stroke="#050505" stroke-width="0.3">40</text>
<line x1="1412.20" y1="355.00" x2="1422.00" y2="355.00" stroke="#050505" stroke-width="2.0" />
<text x="1410.94" y="362.30" font-size="23.50" text-anchor="end" stroke="#050505" stroke-width="0.3">20</text>
<line x1="1412.20" y1="431.40" x2="1422.00" y2="431.40" stroke="#050505" stroke-width="2.0" />
<text x="1407.01" y="439.90" font-size="23.50" text-anchor="end" stroke="#050505" stroke-width="0.3">0</text>
<line x1="1467.85" y1="29.60" x2="1467.85" y2="93.70" stroke="#050505" stroke-width="2.0" />
<line x1="1455.45" y1="29.60" x2="1480.25" y2="29.60" stroke="#050505" stroke-width="2.0" />
<rect x="1449.65" y="93.85" width="36.10" height="337.55" fill="#4f1c24" stroke="#050505" stroke-width="2.3"/>
<line x1="1537.10" y1="133.80" x2="1537.10" y2="262.50" stroke="#050505" stroke-width="2.0" />
<line x1="1524.70" y1="133.80" x2="1549.50" y2="133.80" stroke="#050505" stroke-width="2.0" />
<rect x="1519.05" y="262.65" width="35.80" height="168.75" fill="#4f1c24" stroke="#050505" stroke-width="2.3"/>
<line x1="1606.25" y1="197.00" x2="1606.25" y2="324.40" stroke="#050505" stroke-width="2.0" />
<line x1="1593.85" y1="197.00" x2="1618.65" y2="197.00" stroke="#050505" stroke-width="2.0" />
<rect x="1588.15" y="324.55" width="35.90" height="106.85" fill="#4f1c24" stroke="#050505" stroke-width="2.3"/>
<line x1="1675.40" y1="269.50" x2="1675.40" y2="379.30" stroke="#050505" stroke-width="2.0" />
<line x1="1663.00" y1="269.50" x2="1687.80" y2="269.50" stroke="#050505" stroke-width="2.0" />
<rect x="1657.35" y="379.45" width="35.80" height="51.95" fill="#4f1c24" stroke="#050505" stroke-width="2.3"/>
<text x="1472.50" y="461.80" font-size="23.50" text-anchor="middle" stroke="#050505" stroke-width="0.3">1 dpi</text>
<text x="1541.00" y="461.80" font-size="23.50" text-anchor="middle" stroke="#050505" stroke-width="0.3">2 dpi</text>
<text x="1610.50" y="461.80" font-size="23.50" text-anchor="middle" stroke="#050505" stroke-width="0.3">3 dpi</text>
<text x="1679.50" y="461.80" font-size="23.50" text-anchor="middle" stroke="#050505" stroke-width="0.3">4 dpi</text>
<text x="1445.09" y="492.30" font-size="22.80" textLength="257.36" lengthAdjust="spacingAndGlyphs" stroke="#050505" stroke-width="0.3">Time (days post injection)</text>
<text x="1363.60" y="391.75" font-size="23.50" textLength="308.85" lengthAdjust="spacingAndGlyphs" transform="rotate(-90 1363.60 391.75)" stroke="#050505" stroke-width="0.3">Larvae with opaque brain (%)</text>
<text x="1468.95" y="26.78" font-size="21.50" text-anchor="middle" letter-spacing="1.3" stroke="#050505" stroke-width="0.2">***</text>
<text x="3.92" y="539.10" font-size="29.30" font-weight="bold">D</text>
<line x1="97.70" y1="552.10" x2="97.70" y2="948.60" stroke="#050505" stroke-width="2" />
<line x1="85.70" y1="946.20" x2="487.00" y2="946.20" stroke="#050505" stroke-width="2" />
<line x1="85.70" y1="553.10" x2="97.70" y2="553.10" stroke="#050505" stroke-width="2.3" />
<line x1="85.70" y1="684.40" x2="97.70" y2="684.40" stroke="#050505" stroke-width="2.3" />
<text x="72.21" y="556.50" font-size="23.20" text-anchor="end" stroke="#050505" stroke-width="0.3">3</text>
<text x="72.39" y="690.10" font-size="23.20" text-anchor="end" stroke="#050505" stroke-width="0.3">2</text>
<text x="72.73" y="828.00" font-size="23.20" text-anchor="end" stroke="#050505" stroke-width="0.3">1</text>
<text x="75.40" y="951.80" font-size="23.20" text-anchor="end" stroke="#050505" stroke-width="0.3">0</text>
<line x1="145.10" y1="666.60" x2="145.10" y2="748.80" stroke="#050505" stroke-width="2.2" />
<line x1="132.30" y1="666.60" x2="157.90" y2="666.60" stroke="#050505" stroke-width="2.2" />
<rect x="128.50" y="749.00" width="33.70" height="197.20" fill="#062b2d" stroke="#050505" stroke-width="2.4"/>
<line x1="191.20" y1="694.40" x2="191.20" y2="706.20" stroke="#050505" stroke-width="2.2" />
<line x1="178.40" y1="694.40" x2="204.00" y2="694.40" stroke="#050505" stroke-width="2.2" />
<rect x="174.60" y="706.40" width="33.40" height="239.80" fill="#a0c3cc" stroke="#050505" stroke-width="2.4"/>
<rect x="176.20" y="708.00" width="30.20" height="237.20" fill="none" stroke="#b3d6df" stroke-width="0.8"/>
<line x1="240.50" y1="736.80" x2="240.50" y2="773.30" stroke="#050505" stroke-width="2.2" />
<line x1="227.70" y1="736.80" x2="253.30" y2="736.80" stroke="#050505" stroke-width="2.2" />
<rect x="224.00" y="773.50" width="33.40" height="172.70" fill="#08535f" stroke="#050505" stroke-width="2.4"/>
<line x1="338.40" y1="577.20" x2="338.40" y2="654.10" stroke="#050505" stroke-width="2.2" />
<line x1="325.60" y1="577.20" x2="351.20" y2="577.20" stroke="#050505" stroke-width="2.2" />
<rect x="320.70" y="654.30" width="33.40" height="291.90" fill="#062b2d" stroke="#050505" stroke-width="2.4"/>
<line x1="386.60" y1="771.60" x2="386.60" y2="804.60" stroke="#050505" stroke-width="2.2" />
<line x1="373.80" y1="771.60" x2="399.40" y2="771.60" stroke="#050505" stroke-width="2.2" />
<rect x="369.80" y="804.80" width="33.40" height="141.40" fill="#a0c3cc" stroke="#050505" stroke-width="2.4"/>
<rect x="371.40" y="806.40" width="30.20" height="138.80" fill="none" stroke="#b3d6df" stroke-width="0.8"/>
<line x1="436.00" y1="797.60" x2="436.00" y2="842.50" stroke="#050505" stroke-width="2.2" />
<line x1="423.20" y1="797.60" x2="448.80" y2="797.60" stroke="#050505" stroke-width="2.2" />
<rect x="418.90" y="842.70" width="33.40" height="103.50" fill="#08535f" stroke="#050505" stroke-width="2.4"/>
<line x1="82.7" y1="820.7" x2="483" y2="820.7" stroke="#050505" stroke-width="2.2" stroke-dasharray="15.5 15.3" stroke-dashoffset="7.8"/>
<text x="494.21" y="825.50" font-size="18.20" textLength="37.27" lengthAdjust="spacingAndGlyphs" stroke="#050505" stroke-width="0.3">VHC</text>
<text x="178.65" y="975.60" font-size="23.80" font-style="italic" textLength="37.21" lengthAdjust="spacingAndGlyphs" stroke="#050505" stroke-width="0.3">bax</text>
<text x="366.61" y="975.60" font-size="23.80" font-style="italic" textLength="65.00" lengthAdjust="spacingAndGlyphs" stroke="#050505" stroke-width="0.3">casp9</text>
<text x="339.15" y="570.18" font-size="21.50" text-anchor="middle" letter-spacing="1.3" stroke="#050505" stroke-width="0.2">***</text>
<text x="192.55" y="689.98" font-size="21.50" text-anchor="middle" letter-spacing="1.3" stroke="#050505" stroke-width="0.2">***</text>
<text x="44.40" y="849.52" font-size="24.40" textLength="172.45" lengthAdjust="spacingAndGlyphs" transform="rotate(-90 44.40 849.52)" stroke="#050505" stroke-width="0.3">Fold expression</text>
<rect x="413.40" y="601.20" width="25.8" height="9.4" fill="#062b2d"/>
<text x="450.36" y="609.00" font-size="23.40" textLength="47.24" lengthAdjust="spacingAndGlyphs" stroke="#050505" stroke-width="0.3">3hpi</text>
<rect x="413.40" y="628.80" width="25.8" height="9.4" fill="#a0c3cc"/>
<text x="450.43" y="639.00" font-size="23.40" textLength="47.17" lengthAdjust="spacingAndGlyphs" stroke="#050505" stroke-width="0.3">1dpi</text>
<rect x="413.40" y="658.90" width="25.8" height="9.4" fill="#08535f"/>
<text x="450.04" y="668.50" font-size="23.40" textLength="47.57" lengthAdjust="spacingAndGlyphs" stroke="#050505" stroke-width="0.3">2dpi</text>
<text x="554.92" y="539.10" font-size="29.30" font-weight="bold">E</text>
<line x1="631.70" y1="553.60" x2="631.70" y2="952.00" stroke="#050505" stroke-width="2" />
<line x1="617.10" y1="946.70" x2="1723.60" y2="946.70" stroke="#050505" stroke-width="2" />
<line x1="617.10" y1="554.60" x2="631.70" y2="554.60" stroke="#050505" stroke-width="2.3" />
<text x="614.01" y="562.00" font-size="23.20" text-anchor="end" stroke="#050505" stroke-width="0.3">8</text>
<line x1="617.10" y1="603.00" x2="631.70" y2="603.00" stroke="#050505" stroke-width="2.3" />
<text x="614.19" y="611.90" font-size="23.20" text-anchor="end" stroke="#050505" stroke-width="0.3">7</text>
<line x1="617.10" y1="652.40" x2="631.70" y2="652.40" stroke="#050505" stroke-width="2.3" />
<text x="614.01" y="660.80" font-size="23.20" text-anchor="end" stroke="#050505" stroke-width="0.3">6</text>
<line x1="617.10" y1="701.70" x2="631.70" y2="701.70" stroke="#050505" stroke-width="2.3" />
<text x="613.96" y="709.10" font-size="23.20" text-anchor="end" stroke="#050505" stroke-width="0.3">5</text>
<line x1="617.10" y1="750.50" x2="631.70" y2="750.50" stroke="#050505" stroke-width="2.3" />
<text x="613.67" y="757.90" font-size="23.20" text-anchor="end" stroke="#050505" stroke-width="0.3">4</text>
<line x1="617.10" y1="799.60" x2="631.70" y2="799.60" stroke="#050505" stroke-width="2.3" />
<text x="614.01" y="807.00" font-size="23.20" text-anchor="end" stroke="#050505" stroke-width="0.3">3</text>
<line x1="617.10" y1="848.70" x2="631.70" y2="848.70" stroke="#050505" stroke-width="2.3" />
<text x="614.19" y="856.10" font-size="23.20" text-anchor="end" stroke="#050505" stroke-width="0.3">2</text>
<line x1="617.10" y1="898.40" x2="631.70" y2="898.40" stroke="#050505" stroke-width="2.3" />
<text x="614.13" y="905.80" font-size="23.20" text-anchor="end" stroke="#050505" stroke-width="0.3">1</text>
<text x="613.90" y="954.10" font-size="23.20" text-anchor="end" stroke="#050505" stroke-width="0.3">0</text>
<line x1="664.70" y1="822.00" x2="664.70" y2="842.00" stroke="#050505" stroke-width="2.2" />
<line x1="657.20" y1="822.00" x2="672.20" y2="822.00" stroke="#050505" stroke-width="2.2" />
<rect x="647.70" y="842.20" width="33.40" height="104.50" fill="#062b2d" stroke="#050505" stroke-width="2.4"/>
<line x1="700.80" y1="761.00" x2="700.80" y2="795.10" stroke="#050505" stroke-width="2.2" />
<line x1="693.30" y1="761.00" x2="708.30" y2="761.00" stroke="#050505" stroke-width="2.2" />
<rect x="686.20" y="795.30" width="32.70" height="151.40" fill="#a0c3cc" stroke="#050505" stroke-width="2.4"/>
<rect x="687.80" y="796.90" width="29.50" height="148.80" fill="none" stroke="#b3d6df" stroke-width="0.8"/>
<line x1="740.20" y1="862.80" x2="740.20" y2="903.40" stroke="#050505" stroke-width="2.2" />
<line x1="732.70" y1="862.80" x2="747.70" y2="862.80" stroke="#050505" stroke-width="2.2" />
<rect x="724.10" y="903.60" width="32.90" height="43.10" fill="#08535f" stroke="#050505" stroke-width="2.4"/>
<line x1="800.80" y1="850.00" x2="800.80" y2="879.60" stroke="#050505" stroke-width="2.2" />
<line x1="793.30" y1="850.00" x2="808.30" y2="850.00" stroke="#050505" stroke-width="2.2" />
<rect x="784.20" y="879.80" width="33.40" height="66.90" fill="#062b2d" stroke="#050505" stroke-width="2.4"/>
<line x1="838.40" y1="748.30" x2="838.40" y2="779.10" stroke="#050505" stroke-width="2.2" />
<line x1="830.90" y1="748.30" x2="845.90" y2="748.30" stroke="#050505" stroke-width="2.2" />
<rect x="822.60" y="779.30" width="32.60" height="167.40" fill="#a0c3cc" stroke="#050505" stroke-width="2.4"/>
<rect x="824.20" y="780.90" width="29.40" height="164.80" fill="none" stroke="#b3d6df" stroke-width="0.8"/>
<line x1="877.00" y1="846.20" x2="877.00" y2="870.50" stroke="#050505" stroke-width="2.2" />
<line x1="869.50" y1="846.20" x2="884.50" y2="846.20" stroke="#050505" stroke-width="2.2" />
<rect x="860.40" y="870.70" width="33.70" height="76.00" fill="#08535f" stroke="#050505" stroke-width="2.4"/>
<line x1="937.90" y1="827.00" x2="937.90" y2="881.10" stroke="#050505" stroke-width="2.2" />
<line x1="930.40" y1="827.00" x2="945.40" y2="827.00" stroke="#050505" stroke-width="2.2" />
<rect x="921.50" y="881.30" width="33.50" height="65.40" fill="#062b2d" stroke="#050505" stroke-width="2.4"/>
<line x1="975.70" y1="841.70" x2="975.70" y2="875.30" stroke="#050505" stroke-width="2.2" />
<line x1="968.20" y1="841.70" x2="983.20" y2="841.70" stroke="#050505" stroke-width="2.2" />
<rect x="959.90" y="875.50" width="32.60" height="71.20" fill="#a0c3cc" stroke="#050505" stroke-width="2.4"/>
<rect x="961.50" y="877.10" width="29.40" height="68.60" fill="none" stroke="#b3d6df" stroke-width="0.8"/>
<line x1="1013.80" y1="841.20" x2="1013.80" y2="895.90" stroke="#050505" stroke-width="2.2" />
<line x1="1006.30" y1="841.20" x2="1021.30" y2="841.20" stroke="#050505" stroke-width="2.2" />
<rect x="997.70" y="896.10" width="32.90" height="50.60" fill="#08535f" stroke="#050505" stroke-width="2.4"/>
<line x1="1074.40" y1="852.30" x2="1074.40" y2="886.80" stroke="#050505" stroke-width="2.2" />
<line x1="1066.90" y1="852.30" x2="1081.90" y2="852.30" stroke="#050505" stroke-width="2.2" />
<rect x="1058.30" y="887.00" width="33.20" height="59.70" fill="#062b2d" stroke="#050505" stroke-width="2.4"/>
<line x1="1112.30" y1="685.90" x2="1112.30" y2="822.90" stroke="#050505" stroke-width="2.2" />
<line x1="1104.80" y1="685.90" x2="1119.80" y2="685.90" stroke="#050505" stroke-width="2.2" />
<rect x="1096.20" y="823.10" width="32.90" height="123.60" fill="#a0c3cc" stroke="#050505" stroke-width="2.4"/>
<rect x="1097.80" y="824.70" width="29.70" height="121.00" fill="none" stroke="#b3d6df" stroke-width="0.8"/>
<line x1="1149.60" y1="805.10" x2="1149.60" y2="835.20" stroke="#050505" stroke-width="2.2" />
<line x1="1142.10" y1="805.10" x2="1157.10" y2="805.10" stroke="#050505" stroke-width="2.2" />
<rect x="1134.30" y="835.40" width="33.10" height="111.30" fill="#08535f" stroke="#050505" stroke-width="2.4"/>
<line x1="1212.50" y1="640.10" x2="1212.50" y2="711.70" stroke="#050505" stroke-width="2.2" />
<line x1="1205.00" y1="640.10" x2="1220.00" y2="640.10" stroke="#050505" stroke-width="2.2" />
<rect x="1195.40" y="711.90" width="33.20" height="234.80" fill="#062b2d" stroke="#050505" stroke-width="2.4"/>
<line x1="1252.10" y1="609.80" x2="1252.10" y2="671.60" stroke="#050505" stroke-width="2.2" />
<line x1="1244.60" y1="609.80" x2="1259.60" y2="609.80" stroke="#050505" stroke-width="2.2" />
<rect x="1233.20" y="671.80" width="33.00" height="274.90" fill="#a0c3cc" stroke="#050505" stroke-width="2.4"/>
<rect x="1234.80" y="673.40" width="29.80" height="272.30" fill="none" stroke="#b3d6df" stroke-width="0.8"/>
<line x1="1286.10" y1="828.00" x2="1286.10" y2="841.50" stroke="#050505" stroke-width="2.2" />
<line x1="1278.60" y1="828.00" x2="1293.60" y2="828.00" stroke="#050505" stroke-width="2.2" />
<rect x="1271.30" y="841.70" width="33.20" height="105.00" fill="#08535f" stroke="#050505" stroke-width="2.4"/>
<line x1="1349.00" y1="875.80" x2="1349.00" y2="898.40" stroke="#050505" stroke-width="2.2" />
<line x1="1341.50" y1="875.80" x2="1356.50" y2="875.80" stroke="#050505" stroke-width="2.2" />
<rect x="1332.70" y="898.60" width="33.40" height="48.10" fill="#062b2d" stroke="#050505" stroke-width="2.4"/>
<line x1="1387.10" y1="769.80" x2="1387.10" y2="852.00" stroke="#050505" stroke-width="2.2" />
<line x1="1379.60" y1="769.80" x2="1394.60" y2="769.80" stroke="#050505" stroke-width="2.2" />
<rect x="1371.00" y="852.20" width="33.00" height="94.50" fill="#a0c3cc" stroke="#050505" stroke-width="2.4"/>
<rect x="1372.60" y="853.80" width="29.80" height="91.90" fill="none" stroke="#b3d6df" stroke-width="0.8"/>
<line x1="1424.00" y1="822.40" x2="1424.00" y2="831.70" stroke="#050505" stroke-width="2.2" />
<line x1="1416.50" y1="822.40" x2="1431.50" y2="822.40" stroke="#050505" stroke-width="2.2" />
<rect x="1409.10" y="831.90" width="33.20" height="114.80" fill="#08535f" stroke="#050505" stroke-width="2.4"/>
<line x1="1486.10" y1="893.10" x2="1486.10" y2="904.10" stroke="#050505" stroke-width="2.2" />
<line x1="1478.60" y1="893.10" x2="1493.60" y2="893.10" stroke="#050505" stroke-width="2.2" />
<rect x="1469.80" y="904.30" width="33.40" height="42.40" fill="#062b2d" stroke="#050505" stroke-width="2.4"/>
<line x1="1523.90" y1="877.10" x2="1523.90" y2="888.10" stroke="#050505" stroke-width="2.2" />
<line x1="1516.40" y1="877.10" x2="1531.40" y2="877.10" stroke="#050505" stroke-width="2.2" />
<rect x="1508.10" y="888.30" width="32.90" height="58.40" fill="#a0c3cc" stroke="#050505" stroke-width="2.4"/>
<rect x="1509.70" y="889.90" width="29.70" height="55.80" fill="none" stroke="#b3d6df" stroke-width="0.8"/>
<line x1="1562.30" y1="835.00" x2="1562.30" y2="855.30" stroke="#050505" stroke-width="2.2" />
<line x1="1554.80" y1="835.00" x2="1569.80" y2="835.00" stroke="#050505" stroke-width="2.2" />
<rect x="1546.20" y="855.50" width="32.90" height="91.20" fill="#08535f" stroke="#050505" stroke-width="2.4"/>
<line x1="1621.70" y1="856.50" x2="1621.70" y2="883.30" stroke="#050505" stroke-width="2.2" />
<line x1="1614.20" y1="856.50" x2="1629.20" y2="856.50" stroke="#050505" stroke-width="2.2" />
<rect x="1605.80" y="883.50" width="33.20" height="63.20" fill="#062b2d" stroke="#050505" stroke-width="2.4"/>
<line x1="1659.70" y1="856.80" x2="1659.70" y2="872.80" stroke="#050505" stroke-width="2.2" />
<line x1="1652.20" y1="856.80" x2="1667.20" y2="856.80" stroke="#050505" stroke-width="2.2" />
<rect x="1644.20" y="873.00" width="32.40" height="73.70" fill="#a0c3cc" stroke="#050505" stroke-width="2.4"/>
<rect x="1645.80" y="874.60" width="29.20" height="71.10" fill="none" stroke="#b3d6df" stroke-width="0.8"/>
<line x1="1697.80" y1="855.80" x2="1697.80" y2="876.60" stroke="#050505" stroke-width="2.2" />
<line x1="1690.30" y1="855.80" x2="1705.30" y2="855.80" stroke="#050505" stroke-width="2.2" />
<rect x="1681.70" y="876.80" width="33.20" height="69.90" fill="#08535f" stroke="#050505" stroke-width="2.4"/>
<line x1="646.5" y1="898.4" x2="1723.6" y2="898.4" stroke="#050505" stroke-width="2.2" stroke-dasharray="15.3 15.35"/>
<text x="1729.71" y="903.80" font-size="18.20" textLength="36.76" lengthAdjust="spacingAndGlyphs" stroke="#050505" stroke-width="0.3">VHC</text>
<text x="702.00" y="971.70" font-size="24.20" text-anchor="middle" font-style="italic" stroke="#050505" stroke-width="0.3">il1b</text>
<text x="845.20" y="971.70" font-size="24.20" text-anchor="middle" font-style="italic" stroke="#050505" stroke-width="0.3">il8</text>
<text x="982.10" y="971.70" font-size="24.20" text-anchor="middle" font-style="italic" stroke="#050505" stroke-width="0.3">tnfa</text>
<text x="1119.20" y="971.70" font-size="24.20" text-anchor="middle" font-style="italic" stroke="#050505" stroke-width="0.3">fas</text>
<text x="1261.20" y="971.70" font-size="24.20" text-anchor="middle" font-style="italic" stroke="#050505" stroke-width="0.3">irf1b</text>
<text x="1391.00" y="971.70" font-size="24.20" text-anchor="middle" font-style="italic" stroke="#050505" stroke-width="0.3">c4</text>
<text x="1538.60" y="971.70" font-size="24.20" text-anchor="middle" font-style="italic" stroke="#050505" stroke-width="0.3">csf1ra</text>
<text x="1669.50" y="971.70" font-size="24.20" text-anchor="middle" font-style="italic" stroke="#050505" stroke-width="0.3">nrros</text>
<text x="665.65" y="818.68" font-size="21.50" text-anchor="middle" letter-spacing="1.3" stroke="#050505" stroke-width="0.2">*</text>
<text x="701.45" y="756.28" font-size="21.50" text-anchor="middle" letter-spacing="1.3" stroke="#050505" stroke-width="0.2">***</text>
<text x="839.05" y="742.58" font-size="21.50" text-anchor="middle" letter-spacing="1.3" stroke="#050505" stroke-width="0.2">****</text>
<text x="1150.25" y="800.88" font-size="21.50" text-anchor="middle" letter-spacing="1.3" stroke="#050505" stroke-width="0.2">***</text>
<text x="1213.15" y="634.08" font-size="21.50" text-anchor="middle" letter-spacing="1.3" stroke="#050505" stroke-width="0.2">****</text>
<text x="1252.75" y="604.28" font-size="21.50" text-anchor="middle" letter-spacing="1.3" stroke="#050505" stroke-width="0.2">****</text>
<text x="1287.05" y="823.48" font-size="21.50" text-anchor="middle" letter-spacing="1.3" stroke="#050505" stroke-width="0.2">**</text>
<text x="1424.85" y="818.38" font-size="21.50" text-anchor="middle" letter-spacing="1.3" stroke="#050505" stroke-width="0.2">***</text>
<text x="1562.95" y="830.98" font-size="21.50" text-anchor="middle" letter-spacing="1.3" stroke="#050505" stroke-width="0.2">*</text>
<text x="584.50" y="829.52" font-size="24.40" textLength="172.45" lengthAdjust="spacingAndGlyphs" transform="rotate(-90 584.50 829.52)" stroke="#050505" stroke-width="0.3">Fold expression</text>
<rect x="1622.20" y="567.90" width="25.8" height="9.4" fill="#062b2d"/>
<text x="1659.16" y="575.90" font-size="23.40" textLength="47.45" lengthAdjust="spacingAndGlyphs" stroke="#050505" stroke-width="0.3">3hpi</text>
<rect x="1622.20" y="595.50" width="25.8" height="9.4" fill="#a0c3cc"/>
<text x="1659.22" y="606.00" font-size="23.40" textLength="47.39" lengthAdjust="spacingAndGlyphs" stroke="#050505" stroke-width="0.3">1dpi</text>
<rect x="1622.20" y="625.80" width="25.8" height="9.4" fill="#08535f"/>
<text x="1658.84" y="635.60" font-size="23.40" textLength="47.79" lengthAdjust="spacingAndGlyphs" stroke="#050505" stroke-width="0.3">2dpi</text>
</svg>
</body>
</html>
